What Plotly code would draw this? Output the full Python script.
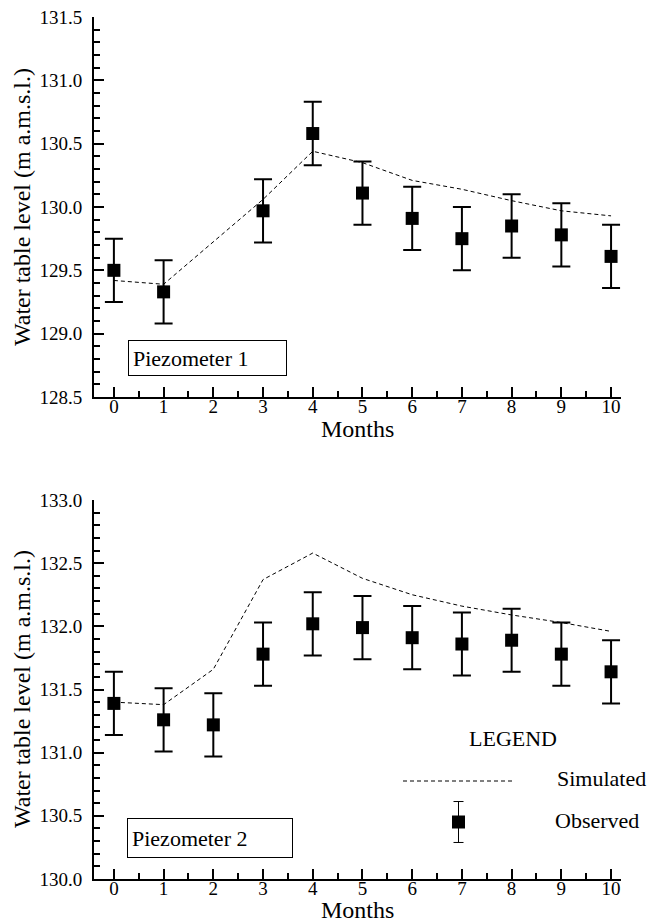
import plotly.graph_objects as go

# ---------------- data ----------------
months_obs_1 = [0, 1, 3, 4, 5, 6, 7, 8, 9, 10]
observed_1 = [129.50, 129.33, 129.97, 130.58, 130.11, 129.91, 129.75, 129.85, 129.78, 129.61]
months_sim_1 = [0, 1, 3, 4, 5, 6, 7, 8, 9, 10]
simulated_1 = [129.42, 129.39, 130.06, 130.44, 130.35, 130.21, 130.14, 130.05, 129.97, 129.93]

months_obs_2 = [0, 1, 2, 3, 4, 5, 6, 7, 8, 9, 10]
observed_2 = [131.39, 131.26, 131.22, 131.78, 132.02, 131.99, 131.91, 131.86, 131.89, 131.78, 131.64]
months_sim_2 = [0, 1, 2, 3, 4, 5, 6, 7, 8, 9, 10]
simulated_2 = [131.40, 131.38, 131.66, 132.37, 132.58, 132.38, 132.25, 132.16, 132.09, 132.03, 131.96]

error_half = 0.25
x_tick_vals = list(range(0, 11))
y_range_1 = [128.5, 131.5]
y_range_2 = [130.0, 133.0]

x_title = "Months"
y_title = "Water table level (m a.m.s.l.)"

FONT = "Liberation Serif, Times New Roman, serif"
W, H = 648, 922

def px(x):
    return x / W

def py(y):
    return 1 - y / H

fig = go.Figure()

# top panel
fig.add_trace(go.Scatter(x=months_sim_1, y=simulated_1, mode="lines",
                         line=dict(color="black", width=1, dash="4px,3px"),
                         xaxis="x", yaxis="y", showlegend=False))
fig.add_trace(go.Scatter(x=months_obs_1, y=observed_1, mode="markers",
                         marker=dict(symbol="square", size=13, color="black"),
                         error_y=dict(type="constant", value=error_half, color="black",
                                      thickness=2, width=9),
                         xaxis="x", yaxis="y", showlegend=False))
# bottom panel
fig.add_trace(go.Scatter(x=months_sim_2, y=simulated_2, mode="lines",
                         line=dict(color="black", width=1, dash="4px,3px"),
                         xaxis="x2", yaxis="y2", showlegend=False))
fig.add_trace(go.Scatter(x=months_obs_2, y=observed_2, mode="markers",
                         marker=dict(symbol="square", size=13, color="black"),
                         error_y=dict(type="constant", value=error_half, color="black",
                                      thickness=2, width=9),
                         xaxis="x2", yaxis="y2", showlegend=False))

# legend glyphs (drawn on a small hidden axis)
fig.add_trace(go.Scatter(x=[0, 1], y=[0.8625, 0.8625], mode="lines",
                         line=dict(color="black", width=1, dash="4px,3px"),
                         xaxis="x3", yaxis="y3", showlegend=False, hoverinfo="skip"))
fig.add_trace(go.Scatter(x=[0.5], y=[0.35], mode="markers",
                         marker=dict(symbol="square", size=13, color="black"),
                         error_y=dict(type="constant", value=0.256, color="black",
                                      thickness=1, width=5),
                         xaxis="x3", yaxis="y3", showlegend=False, hoverinfo="skip"))

x_dom = [px(94), px(621)]
axis_common = dict(showline=True, linecolor="black", linewidth=2, mirror=False,
                   ticks="inside", tickcolor="black", tickwidth=2, ticklen=10,
                   showgrid=False, zeroline=False, automargin=False,
                   ticklabeloverflow="allow",
                   tickfont=dict(family=FONT, size=19, color="black"))

xaxis_common = dict(axis_common, range=[-0.4, 10.2], tickmode="array",
                    tickvals=x_tick_vals, ticklabelstandoff=-9,
                    minor=dict(ticks="inside", dtick=0.5, ticklen=6, tickwidth=1.5,
                               tickcolor="black", showgrid=False))
yaxis_common = dict(axis_common, dtick=0.5, tickformat=".1f",
                    ticklabelstandoff=6,
                    minor=dict(ticks="inside", dtick=0.1, ticklen=6, tickwidth=1.5,
                               tickcolor="black", showgrid=False))

fig.update_layout(
    width=W, height=H,
    margin=dict(l=0, r=0, t=0, b=0),
    paper_bgcolor="white", plot_bgcolor="white",
    font=dict(family=FONT, color="black"),
    showlegend=False,
    xaxis=dict(xaxis_common, domain=x_dom, anchor="y"),
    yaxis=dict(yaxis_common, domain=[py(397), py(17)], range=y_range_1,
               tick0=128.5, anchor="x"),
    xaxis2=dict(xaxis_common, domain=x_dom, anchor="y2"),
    yaxis2=dict(yaxis_common, domain=[py(879), py(500)], range=y_range_2,
                tick0=130.0, anchor="x2"),
    xaxis3=dict(domain=[px(403), px(514)], range=[0, 1], visible=False, anchor="y3",
                fixedrange=True, automargin=False),
    yaxis3=dict(domain=[py(850), py(770)], range=[0, 1], visible=False, anchor="x3",
                fixedrange=True, automargin=False),
)

ann_font = dict(family=FONT, size=22, color="black")
title_font = dict(family=FONT, size=24, color="black")
annotations = [
    # axis titles
    dict(text=x_title, x=px(357), y=py(429), xref="paper", yref="paper",
         xanchor="center", yanchor="middle", showarrow=False, font=title_font),
    dict(text=x_title, x=px(357), y=py(910), xref="paper", yref="paper",
         xanchor="center", yanchor="middle", showarrow=False, font=title_font),
    dict(text=y_title, x=px(22), y=py(207), xref="paper", yref="paper",
         xanchor="center", yanchor="middle", showarrow=False, font=title_font,
         textangle=-90),
    dict(text=y_title, x=px(22), y=py(689), xref="paper", yref="paper",
         xanchor="center", yanchor="middle", showarrow=False, font=title_font,
         textangle=-90),
    # panel labels
    dict(text="Piezometer 1", x=px(128), y=py(358), xref="paper", yref="paper",
         xanchor="left", yanchor="middle", showarrow=False, font=ann_font,
         bordercolor="black", borderwidth=1, borderpad=4, width=149, height=26,
         align="left"),
    dict(text="Piezometer 2", x=px(127), y=py(838), xref="paper", yref="paper",
         xanchor="left", yanchor="middle", showarrow=False, font=ann_font,
         bordercolor="black", borderwidth=1, borderpad=4, width=156, height=30,
         align="left"),
    # legend texts
    dict(text="LEGEND", x=px(513), y=py(738), xref="paper", yref="paper",
         xanchor="center", yanchor="middle", showarrow=False, font=ann_font),
    dict(text="Simulated", x=px(555), y=py(778), xref="paper", yref="paper",
         xanchor="left", yanchor="middle", showarrow=False, font=ann_font),
    dict(text="Observed", x=px(553), y=py(820), xref="paper", yref="paper",
         xanchor="left", yanchor="middle", showarrow=False, font=ann_font),
]
fig.update_layout(annotations=annotations)

# remove the browser's default 8px body margin so the figure fills the window
fig.write_html("out.html",
               config={"displayModeBar": False},
               post_script="document.body.style.margin='0px';"
                           "document.body.style.overflow='hidden';")
